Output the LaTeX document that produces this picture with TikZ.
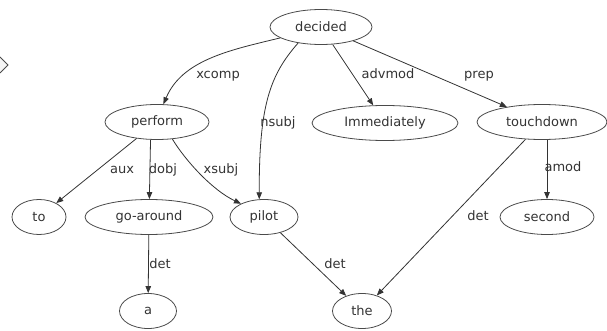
\documentclass[tikz,border=0pt]{standalone}
\usepackage{fontspec}
\setmainfont{DejaVu Sans}
\usetikzlibrary{shapes.geometric,arrows.meta}
\definecolor{ink}{HTML}{333333}
\definecolor{rim}{HTML}{4A4A4A}
\begin{document}
\begin{tikzpicture}[x=1pt,y=1pt,
  tok/.style={ellipse,draw=rim,line width=0.8pt,inner sep=0pt,minimum height=35pt,
    font=\fontsize{13}{15}\selectfont,text=ink},
  rel/.style={font=\fontsize{13}{15}\selectfont,text=ink,inner sep=0pt,
    text height=9.5pt,text depth=2.5pt},
  edge/.style={draw=ink,line width=0.8pt,-{Triangle[length=7pt,width=5.5pt]}}]
\useasboundingbox (0,0) rectangle (607,-331);

% corner of a diamond at the left border
\filldraw[fill=gray!8,draw=rim,line width=0.8pt] (0,-57) -- (8,-65) -- (0,-73);

% words
\node[tok,minimum width=102pt] (decided) at (321,-27) {decided};
\node[tok,minimum width=104pt] (perform) at (157,-122) {perform};
\node[tok,minimum width=146pt] (immediately) at (385,-123) {Immediately};
\node[tok,minimum width=130pt] (touchdown) at (542,-122) {touchdown};
\node[tok,minimum width=54pt] (to) at (39,-217) {to};
\node[tok,minimum width=128pt] (goaround) at (149,-217) {go-around};
\node[tok,minimum width=68pt] (pilot) at (264,-217) {pilot};
\node[tok,minimum width=94pt] (second) at (547,-217) {second};
\node[tok,minimum width=57pt] (a) at (148,-311) {a};
\node[tok,minimum width=59pt] (the) at (362,-311) {the};

% dependencies
\draw[edge] (decided.195) .. controls (230,-50) and (182,-60) .. (perform.70);
\draw[edge] (decided.215) .. controls (270,-75) and (259,-105) .. (pilot.105);
\draw[edge] (decided) -- (immediately);
\draw[edge] (decided) -- (touchdown);
\draw[edge] (perform) -- (to);
\draw[edge] (perform.250) -- (goaround);
\draw[edge] (perform.312) .. controls (185,-160) and (212,-190) .. (pilot.150);
\draw[edge] (goaround) -- (a);
\draw[edge] (pilot) -- (the);
\draw[edge] (touchdown) -- (the);
\draw[edge] (second.north |- touchdown.south) -- (second);

% relation labels
\node[rel] (lxcomp) at (218,-75) {xcomp};
\node[rel] (lnsubj) at (278,-123) {nsubj};
\node[rel] (ladvmod) at (388,-75) {advmod};
\node[rel] (lprep) at (479,-75) {prep};
\node[rel] (laux) at (122,-170) {aux};
\node[rel] (ldobj) at (163,-170) {dobj};
\node[rel] (lxsubj) at (221,-170) {xsubj};
\node[rel] (ldeta) at (160,-265) {det};
\node[rel] (ldetpilot) at (335,-265) {det};
\node[rel] (ldettouch) at (478,-217) {det};
\node[rel] (lamod) at (563,-168) {amod};
\end{tikzpicture}
\end{document}
